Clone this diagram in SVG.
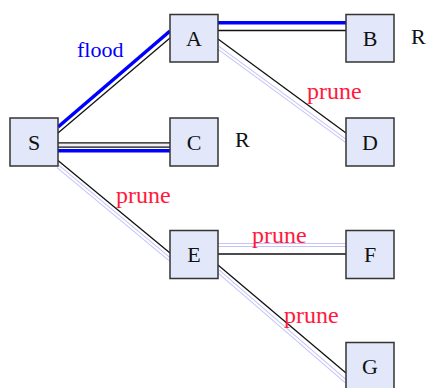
<svg xmlns="http://www.w3.org/2000/svg" width="428" height="388" viewBox="0 0 428 388">
<style>
.node rect{fill:#e2e8fa;stroke:#333;stroke-width:1.5}
.node text{font-family:"Liberation Serif",serif;font-size:22px;fill:#111;text-anchor:middle}
.blk{stroke:#111;stroke-width:1.3;fill:none}
.blue{stroke:#0000ff;stroke-width:3.6;fill:none}
.lavo{stroke:#c4c4fa;stroke-width:4;fill:none}
.lavi{stroke:#ffffff;stroke-width:2;fill:none}
.dblo{stroke:#111;stroke-width:5.5;fill:none}
.dbli{stroke:#eeeef4;stroke-width:3;fill:none}
.lbl{font-family:"Liberation Serif",serif;font-size:22px}
.prune{font-family:"Liberation Serif",serif;font-size:24px;fill:#ff1a3c}
</style>
<rect width="428" height="388" fill="#fff"/>
<g id="connectors">
  <line class="blue" x1="58" y1="127" x2="170" y2="31"/>
  <line class="blk" x1="58" y1="133" x2="170" y2="38"/>
  <line class="blue" x1="218" y1="22.7" x2="346" y2="22.7"/>
  <line class="blk" x1="218" y1="30.5" x2="346" y2="30.5"/>
  <line class="blk" x1="218" y1="39" x2="346" y2="133"/>
  <line class="lavo" x1="218" y1="47.5" x2="346" y2="141"/>
  <line class="lavi" x1="218" y1="47.5" x2="346" y2="141"/>
  <line class="dblo" x1="58" y1="145" x2="170" y2="145"/>
  <line class="dbli" x1="58" y1="145" x2="170" y2="145"/>
  <line class="blue" x1="58" y1="150.8" x2="170" y2="150.8"/>
  <line class="blk" x1="58" y1="160.5" x2="170" y2="253"/>
  <line class="lavo" x1="58" y1="166.5" x2="170" y2="259.5"/>
  <line class="lavi" x1="58" y1="166.5" x2="170" y2="259.5"/>
  <line class="lavo" x1="218" y1="245" x2="346" y2="245"/>
  <line class="lavi" x1="218" y1="245" x2="346" y2="245"/>
  <line class="blk" x1="218" y1="254" x2="346" y2="254"/>
  <line class="blk" x1="218" y1="265" x2="346" y2="373"/>
  <line class="lavo" x1="218" y1="271" x2="346" y2="381.5"/>
  <line class="lavi" x1="218" y1="271" x2="346" y2="381.5"/>
  <text class="lbl" x="77" y="57" fill="#0000ff">flood</text>
  <text class="prune" x="307" y="99">prune</text>
  <text class="prune" x="116" y="203">prune</text>
  <text class="prune" x="252" y="243">prune</text>
  <text class="prune" x="284" y="323">prune</text>
</g>
<g id="S" class="node"><rect x="10" y="118" width="48" height="48"/><text x="34" y="149.5">S</text></g>
<g id="A" class="node"><rect x="170" y="14.5" width="48" height="47.5"/><text x="194" y="46">A</text></g>
<g id="B" class="node"><rect x="346" y="14.5" width="48" height="47.5"/><text x="370" y="46">B</text></g>
<g id="C" class="node"><rect x="170" y="118" width="48" height="48"/><text x="194" y="149.5">C</text></g>
<g id="D" class="node"><rect x="346" y="118" width="48" height="48"/><text x="370" y="149.5">D</text></g>
<g id="E" class="node"><rect x="170" y="230.5" width="48" height="48"/><text x="194" y="262">E</text></g>
<g id="F" class="node"><rect x="346" y="230.5" width="48" height="48"/><text x="370" y="262">F</text></g>
<g id="G" class="node"><rect x="346" y="342.5" width="48" height="48"/><text x="370" y="374">G</text></g>
<text class="lbl" x="411" y="43.5" fill="#111">R</text>
<text class="lbl" x="235" y="146.5" fill="#111">R</text>
</svg>
